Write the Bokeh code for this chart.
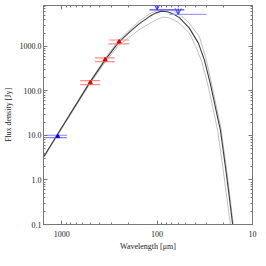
from bokeh.plotting import figure
from bokeh.models import (Range1d, LogAxis, FixedTicker, Arrow, OpenHead,
                          CustomJSTickFormatter)
from bokeh.embed import file_html
from bokeh.resources import INLINE

# ---- model curves ----
lam_fit = [1550, 1482, 1137, 512, 351, 254.5, 195.1, 153.3, 120.4, 104.2, 90.1, 78.0,
           67.5, 58.4, 45.9, 36.9, 31.9, 27.6, 24.5, 21.7, 19.0, 17.5, 16.1]
flux_fit = [3.3, 3.8, 9.6, 150, 492, 1217, 2094, 3251, 4677, 5598, 6209, 6025,
            5322, 4436, 2576, 1186, 492, 142, 43.3, 13.1, 1.66, 0.41, 0.095]

lam_hi = [1550, 1137, 512, 351, 254.5, 195.1, 153.3, 120.4, 104.2, 90.1, 78.0, 67.5,
          58.4, 45.9, 36.0, 31.2, 27.3, 24.2, 21.4, 18.8, 17.3, 15.9]
flux_hi = [3.37, 9.75, 158, 532, 1350, 2323, 3706, 5322, 6209, 6823, 6775, 6209,
           5322, 3342, 1644, 605, 175, 50.5, 14.6, 1.84, 0.455, 0.095]

lam_lo = [1550, 1137, 512, 351, 254.5, 195.1, 153.3, 120.4, 101.7, 88.0, 76.1, 65.9,
          57.0, 45.9, 39.2, 33.9, 29.3, 26.0, 23.1, 20.2, 18.6, 17.0]
flux_lo = [3.17, 9.02, 139, 443, 1042, 1618, 2388, 3251, 4000, 4550, 4436, 3899,
           3170, 1991, 980, 443, 135, 41.0, 12.5, 1.58, 0.41, 0.095]

# ---- photometry ----
red_lam = [500, 350, 250]
red_flux = [155, 505, 1270]
red_err = [16, 50, 125]
red_bw_lo = [395, 278, 195]
red_bw_hi = [640, 450, 322]

mm_lam = [1100]
mm_flux = [9.5]
mm_err = [0.6]
mm_bw_lo = [880]
mm_bw_hi = [1480]

ul_lam = [100, 60]
ul_flux = [6600, 5240]
ul_bw_lo = [51.8, 30.2]
ul_bw_hi = [120.4, 74.3]
ul_colors = ["#4a4aff", "#a0a0ff"]

x_major = [10, 100, 1000]
y_major = [0.1, 1, 10, 100, 1000]
mult = [2, 3, 4, 5, 6, 7, 8, 9]
x_minor = [d * m for d in [10, 100] for m in mult]
y_minor = [d * m for d in [0.1, 1, 10, 100, 1000] for m in mult]

FONT = "Liberation Serif"
AX = "#777777"

p = figure(frame_width=209, frame_height=219, x_axis_type="log", y_axis_type="log",
           x_range=Range1d(1550, 10), y_range=Range1d(0.1, 8300),
           output_backend="svg", toolbar_location=None,
           min_border_left=37, min_border_right=5, min_border_top=5, min_border_bottom=26,
           background_fill_color="white", border_fill_color="white")
p.grid.visible = False
p.outline_line_color = AX

xt = FixedTicker(ticks=x_major, minor_ticks=x_minor)
yt = FixedTicker(ticks=y_major, minor_ticks=y_minor)

def style(ax, labels=True):
    ax.axis_line_color = AX
    ax.major_tick_line_color = AX
    ax.minor_tick_line_color = AX
    ax.major_tick_in = 4
    ax.major_tick_out = 0
    ax.minor_tick_in = 2
    ax.minor_tick_out = 0
    ax.major_label_text_font = FONT
    ax.major_label_text_color = "#222222"
    ax.axis_label_text_font = FONT
    ax.axis_label_text_font_style = "normal"
    ax.axis_label_text_color = "#222222"
    ax.axis_label_text_font_size = "8px"
    if labels:
        ax.major_label_text_font_size = "8px"
    else:
        ax.major_label_text_font_size = "1px"
        ax.major_label_text_alpha = 0
        ax.major_label_standoff = 0

xa = p.xaxis[0]
xa.ticker = xt
xa.formatter = CustomJSTickFormatter(code="return tick.toFixed(0);")
xa.axis_label = "Wavelength [μm]"
style(xa)
xa.major_label_standoff = 6
xa.axis_label_standoff = 2

ya = p.yaxis[0]
ya.ticker = yt
ya.formatter = CustomJSTickFormatter(code="return tick.toFixed(1);")
ya.axis_label = "Flux density [Jy]"
style(ya)
ya.major_label_standoff = 2
ya.axis_label_standoff = 4

top = LogAxis(ticker=xt)
style(top, labels=False)
p.add_layout(top, "above")
right = LogAxis(ticker=yt)
style(right, labels=False)
p.add_layout(right, "right")

# model curves
p.line(lam_hi, flux_hi, line_color="#c0c0c0", line_width=1)
p.line(lam_lo, flux_lo, line_color="#c0c0c0", line_width=1)
p.line(lam_fit, flux_fit, line_color="#3a3a3a", line_width=1.1)

# red points
r_up = [f + e for f, e in zip(red_flux, red_err)]
r_dn = [f - e for f, e in zip(red_flux, red_err)]
p.segment(red_bw_lo, r_up, red_bw_hi, r_up, line_color="#ff7070", line_alpha=0.8, line_width=1.2)
p.segment(red_bw_lo, r_dn, red_bw_hi, r_dn, line_color="#ff7070", line_alpha=0.8, line_width=1.2)
p.segment(red_lam, r_dn, red_lam, r_up, line_color="#e00000", line_width=1)
p.scatter(red_lam, red_flux, marker="triangle", size=4, color="#e00000")

# mm point
m_up = [f + e for f, e in zip(mm_flux, mm_err)]
m_dn = [f - e for f, e in zip(mm_flux, mm_err)]
p.segment(mm_bw_lo, m_up, mm_bw_hi, m_up, line_color="#8080ff", line_width=1.2)
p.segment(mm_bw_lo, m_dn, mm_bw_hi, m_dn, line_color="#8080ff", line_width=1.2)
p.segment(mm_lam, m_dn, mm_lam, m_up, line_color="#0000dd", line_width=1)
p.scatter(mm_lam, mm_flux, marker="triangle", size=4, color="#0000dd")

# upper limits
p.segment(ul_bw_lo, ul_flux, ul_bw_hi, ul_flux, line_color=ul_colors, line_width=1.3)
for lam, f in zip(ul_lam, ul_flux):
    p.add_layout(Arrow(end=OpenHead(size=6, line_color="#3333ff", line_width=1),
                       x_start=lam, y_start=f * 1.36, x_end=lam, y_end=f,
                       line_color="#3333ff", line_width=1))

open("out.html", "w").write(file_html(p, INLINE))
